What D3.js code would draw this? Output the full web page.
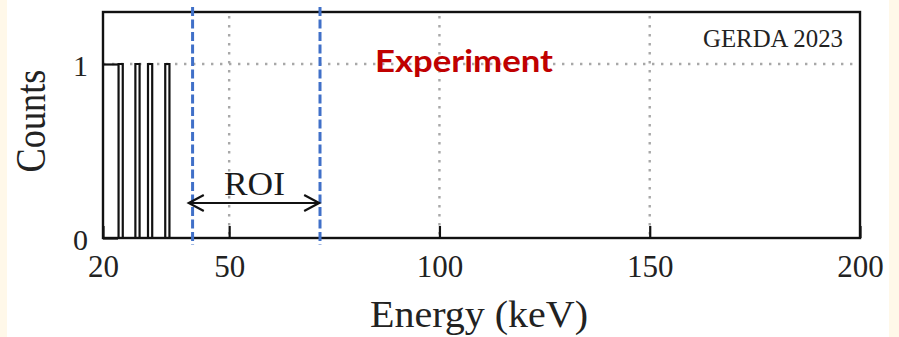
<!DOCTYPE html>
<html>
<head>
<meta charset="utf-8">
<script src="https://cdn.jsdelivr.net/npm/d3@7"></script>
<style>
  html, body { margin: 0; padding: 0; background: #fff8e9; }
  svg { display: block; }
</style>
</head>
<body>
<svg id="chart" width="899" height="337"></svg>
<script>
// Event energies (bin centres, keV) and counts per 1 keV bin
const binCenters = [24.2, 28.2, 31.2, 35.3];
const binCounts = [1, 1, 1, 1];
const binWidth = 1;

// Axis ticks
const xTicks = [20, 50, 100, 150, 200];
const yTicks = [0, 1];

// Region of interest (keV) and its arrow span
const roiBounds = [41.3, 71.6];
const roiArrow = [40.4, 71.4];

const svg = d3.select("#chart");
const W = 899, H = 337;

// white panel
svg.append("rect").attr("x", 7).attr("y", 0).attr("width", 882).attr("height", H).attr("fill", "#ffffff");

const plot = { left: 103, right: 860, top: 12, bottom: 238 };
const x = d3.scaleLinear().domain([20, 200]).range([plot.left, plot.right]);
const y = d3.scaleLinear().domain([0, 1]).range([plot.bottom, 64]);

const serif = "'Liberation Serif', 'Times New Roman', serif";

// dotted grid
const gridStyle = g => g.attr("stroke", "#a8a8a8").attr("stroke-width", 2.4).attr("stroke-dasharray", "2.4,6.6").attr("fill", "none");
svg.append("g").call(gridStyle)
  .selectAll("line").data(xTicks.filter(t => t > 20 && t < 200)).join("line")
  .attr("x1", d => x(d)).attr("x2", d => x(d))
  .attr("y1", plot.top + 4).attr("y2", plot.bottom);
svg.append("g").call(gridStyle)
  .selectAll("line").data(yTicks.filter(t => t > 0)).join("line")
  .attr("x1", plot.left).attr("x2", plot.right)
  .attr("y1", d => y(d)).attr("y2", d => y(d));

// histogram outline
const steps = [[20, 0]];
binCenters.forEach((c, i) => {
  const lo = c - binWidth / 2, hi = c + binWidth / 2;
  steps.push([lo, 0], [lo, binCounts[i]], [hi, binCounts[i]], [hi, 0]);
});
steps.push([200, 0]);
svg.append("path")
  .attr("d", d3.line().x(d => x(d[0])).y(d => y(d[1]))(steps))
  .attr("fill", "none").attr("stroke", "#111").attr("stroke-width", 2.2);

// axes with inward ticks
const xAxis = svg.append("g").attr("transform", `translate(0,${plot.bottom})`)
  .call(d3.axisBottom(x).tickValues(xTicks).tickSize(-12).tickFormat(d3.format("d")));
xAxis.select(".domain").remove();
xAxis.selectAll(".tick line").attr("stroke", "#111").attr("stroke-width", 2.2);
xAxis.selectAll(".tick text")
  .attr("y", 39).attr("dy", 0)
  .attr("fill", "#222").style("font-family", serif).style("font-size", "31px");

const yAxis = svg.append("g").attr("transform", `translate(${plot.left},0)`)
  .call(d3.axisLeft(y).tickValues(yTicks).tickSize(-15).tickFormat(d3.format("d")));
yAxis.select(".domain").remove();
yAxis.selectAll(".tick line").attr("stroke", "#111").attr("stroke-width", 2.2);
yAxis.selectAll(".tick text")
  .attr("x", -15).attr("dy", 11)
  .attr("fill", "#222").style("font-family", serif).style("font-size", "30px");

// frame
svg.append("rect")
  .attr("x", plot.left).attr("y", plot.top)
  .attr("width", plot.right - plot.left).attr("height", plot.bottom - plot.top)
  .attr("fill", "none").attr("stroke", "#111").attr("stroke-width", 2.4);

// ROI boundaries
svg.append("g").selectAll("line").data(roiBounds).join("line")
  .attr("x1", d => x(d)).attr("x2", d => x(d))
  .attr("y1", 7).attr("y2", 245)
  .attr("stroke", "#4070c8").attr("stroke-width", 3).attr("stroke-dasharray", "9,3.5");

// ROI arrow
const ay = 203;
const ax0 = x(roiArrow[0]), ax1 = x(roiArrow[1]);
const arrow = svg.append("g").attr("fill", "none").attr("stroke", "#111").attr("stroke-width", 2.2);
arrow.append("line").attr("x1", ax0).attr("x2", ax1).attr("y1", ay).attr("y2", ay);
arrow.append("path").attr("d", `M${ax0 + 15},${ay - 8} L${ax0},${ay} L${ax0 + 15},${ay + 8}`);
arrow.append("path").attr("d", `M${ax1 - 15},${ay - 8} L${ax1},${ay} L${ax1 - 15},${ay + 8}`);

svg.append("text").text("ROI")
  .attr("x", (ax0 + ax1) / 2 + 0.5).attr("y", 195).attr("text-anchor", "middle")
  .attr("textLength", 61).attr("lengthAdjust", "spacingAndGlyphs")
  .style("font-family", serif).style("font-size", "33px").attr("fill", "#1a1a1a");

// labels
svg.append("text").text("GERDA 2023")
  .attr("x", 703).attr("y", 47)
  .attr("textLength", 140).attr("lengthAdjust", "spacingAndGlyphs")
  .style("font-family", serif).style("font-size", "26px").attr("fill", "#222");

svg.append("text").text("Experiment")
  .attr("x", 375).attr("y", 72)
  .attr("textLength", 178).attr("lengthAdjust", "spacingAndGlyphs")
  .style("font-family", "Lato, 'Liberation Sans', Arial, sans-serif").style("font-weight", "bold")
  .style("font-size", "31px").attr("fill", "#c00000");

svg.append("text").text("Energy (keV)")
  .attr("x", 370).attr("y", 327)
  .attr("textLength", 218).attr("lengthAdjust", "spacingAndGlyphs")
  .style("font-family", serif).style("font-size", "38px").attr("fill", "#222");

svg.append("text").text("Counts")
  .attr("transform", "translate(45,121) rotate(-90)")
  .attr("text-anchor", "middle")
  .attr("textLength", 103).attr("lengthAdjust", "spacingAndGlyphs")
  .style("font-family", serif).style("font-size", "42px").attr("fill", "#222");
</script>
</body>
</html>
